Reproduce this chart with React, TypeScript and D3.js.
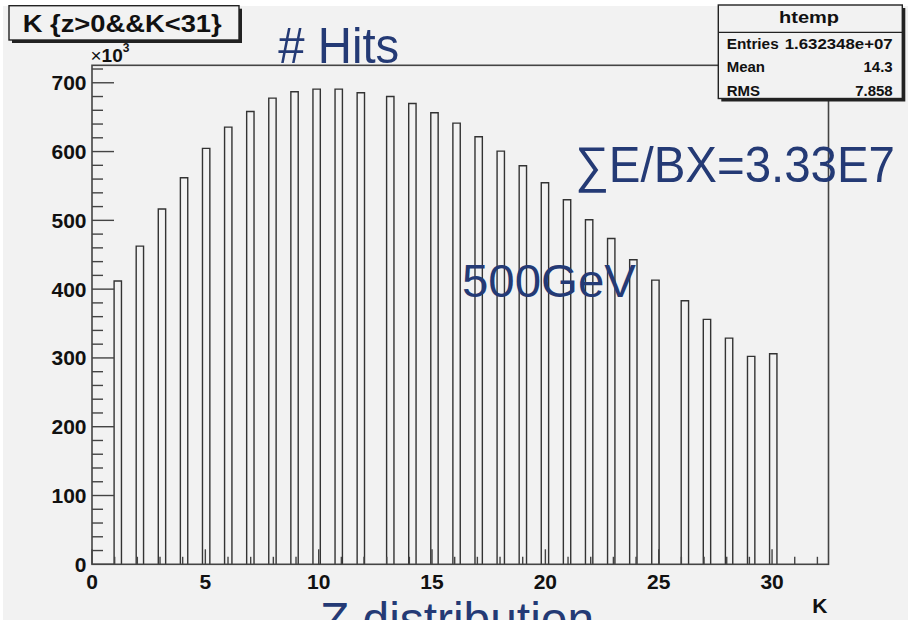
import React from "react";
import * as d3 from "d3";

// Hit counts (×10³) per layer K, for K = 1 … 30
const layers = d3.range(1, 31);
const hits = [
  411.8, 462.6, 516.4, 562.0, 604.6, 635.5, 658.3, 677.7, 686.9, 690.7,
  690.7, 685.5, 680.1, 669.9, 656.4, 641.3, 621.5, 600.6, 579.4, 554.7,
  529.9, 500.9, 473.7, 442.8, 413.1, 383.2, 356.0, 328.8, 302.2, 306.1,
];

// Histogram binning and axis range
const xMax = 32.49;
const nBins = 100;
const yMax = 725.4;
const yTicks = d3.range(0, 721, 20);
const yLabelTicks = d3.range(0, 701, 100);
const xTicks = d3.range(0, 33, 1);
const xLabelTicks = [0, 5, 10, 15, 20, 25, 30];

const statNames = ["Entries", "Mean", "RMS"];
const statValues = ["1.632348e+07", "14.3", "7.858"];

const FONT = "'Liberation Sans', Arial, Helvetica, sans-serif";
const INK = "#333333";
const NAVY = "#243a75";
const BG = "#f2f2f2";

export default function App() {
  const left = 92, right = 828.5, top = 65.3, bottom = 564.3;
  const x = d3.scaleLinear().domain([0, xMax]).range([left, right]);
  const y = d3.scaleLinear().domain([0, yMax]).range([bottom, top]);
  const binW = xMax / nBins;

  const bars = layers.map((k, i) => {
    const idx = Math.floor(k / binW);
    const x0 = idx * binW;
    return { k, v: hits[i], x0, x1: x0 + binW };
  });

  return (
    <svg
      width={908}
      height={620}
      style={{ position: "absolute", left: 0, top: 0, display: "block" }}
      fontFamily={FONT}
    >
      <rect x={0} y={0} width={908} height={620} fill="#ffffff" />
      <rect x={3} y={6} width={905} height={614} fill={BG} />

      {/* histogram bins */}
      <g fill="none" stroke={INK} strokeWidth={1.4}>
        {bars.map((b) => (
          <path
            key={b.k}
            d={`M${x(b.x0)},${y(0)}V${y(b.v)}H${x(b.x1)}V${y(0)}`}
          />
        ))}
      </g>

      {/* frame */}
      <rect
        x={left}
        y={top}
        width={right - left}
        height={bottom - top}
        fill="none"
        stroke="#444"
        strokeWidth={1.6}
      />

      {/* y ticks */}
      <g stroke="#444" strokeWidth={1.4}>
        {yTicks.map((t) => (
          <line
            key={t}
            x1={left}
            x2={left + (t % 100 === 0 ? 22 : 11)}
            y1={y(t)}
            y2={y(t)}
          />
        ))}
      </g>
      <g fontSize={21} fontWeight="bold" fill="#111" textAnchor="end">
        {yLabelTicks.map((t) => (
          <text key={t} x={86.5} y={y(t)} dy="0.36em">
            {t}
          </text>
        ))}
      </g>
      <text x={90.5} y={62} fontSize={19} fill="#111">
        ×<tspan fontWeight="bold">10</tspan>
        <tspan fontSize={12} fontWeight="bold" dy={-10}>3</tspan>
      </text>

      {/* x ticks */}
      <g stroke="#444" strokeWidth={1.4}>
        {xTicks.map((t) => (
          <line
            key={t}
            x1={x(t)}
            x2={x(t)}
            y1={bottom}
            y2={bottom - (t % 5 === 0 ? 15 : 7.5)}
          />
        ))}
      </g>
      <g fontSize={21} fontWeight="bold" fill="#111" textAnchor="middle">
        {xLabelTicks.map((t) => (
          <text key={t} x={x(t)} y={588.5}>
            {t}
          </text>
        ))}
      </g>
      <text x={827.5} y={613.3} fontSize={21} fontWeight="bold" fill="#111" textAnchor="end">
        K
      </text>

      {/* title box */}
      <rect x={12} y={8.7} width={230} height={34.3} fill="#222" />
      <rect x={9} y={5.7} width={230} height={34.3} fill={BG} stroke="#222" strokeWidth={1.4} />
      <text
        x={22.7}
        y={31.5}
        fontSize={24}
        fontWeight="bold"
        fill="#111"
        textLength={199}
        lengthAdjust="spacingAndGlyphs"
      >
        {"K {z>0&&K<31}"}
      </text>

      {/* statistics box */}
      <rect x={721.3} y={8} width={184} height={93.5} fill="#222" />
      <rect x={718.3} y={5} width={184} height={93.5} fill={BG} stroke="#222" strokeWidth={1.4} />
      <line x1={718.3} x2={902.3} y1={32.3} y2={32.3} stroke="#222" strokeWidth={1.2} />
      <text
        x={809}
        y={23.3}
        fontSize={17}
        fontWeight="bold"
        fill="#111"
        textAnchor="middle"
        textLength={60}
        lengthAdjust="spacingAndGlyphs"
      >
        htemp
      </text>
      <g fontSize={15} fontWeight="bold" fill="#111">
        {statNames.map((name, i) => (
          <g key={name}>
            <text
              x={726.7}
              y={48.5 + i * 23.8}
              textLength={i === 0 ? 52 : undefined}
              lengthAdjust="spacingAndGlyphs"
            >
              {name}
            </text>
            <text
              x={892.7}
              y={48.5 + i * 23.8}
              textAnchor="end"
              textLength={i === 0 ? 108 : undefined}
              lengthAdjust="spacingAndGlyphs"
            >
              {statValues[i]}
            </text>
          </g>
        ))}
      </g>

      {/* annotations */}
      <g fill={NAVY} fontSize={50}>
        <text x={278.3} y={63.3} textLength={121} lengthAdjust="spacingAndGlyphs">
          # Hits
        </text>
        <text x={575} y={182.3} textLength={320} lengthAdjust="spacingAndGlyphs">
          ∑E/BX=3.33E7
        </text>
        <text x={462} y={297} fontSize={47} textLength={174} lengthAdjust="spacingAndGlyphs">
          500GeV
        </text>
        <text x={320} y={636} fontSize={48} textLength={274} lengthAdjust="spacingAndGlyphs">
          Z distribution
        </text>
      </g>
    </svg>
  );
}
